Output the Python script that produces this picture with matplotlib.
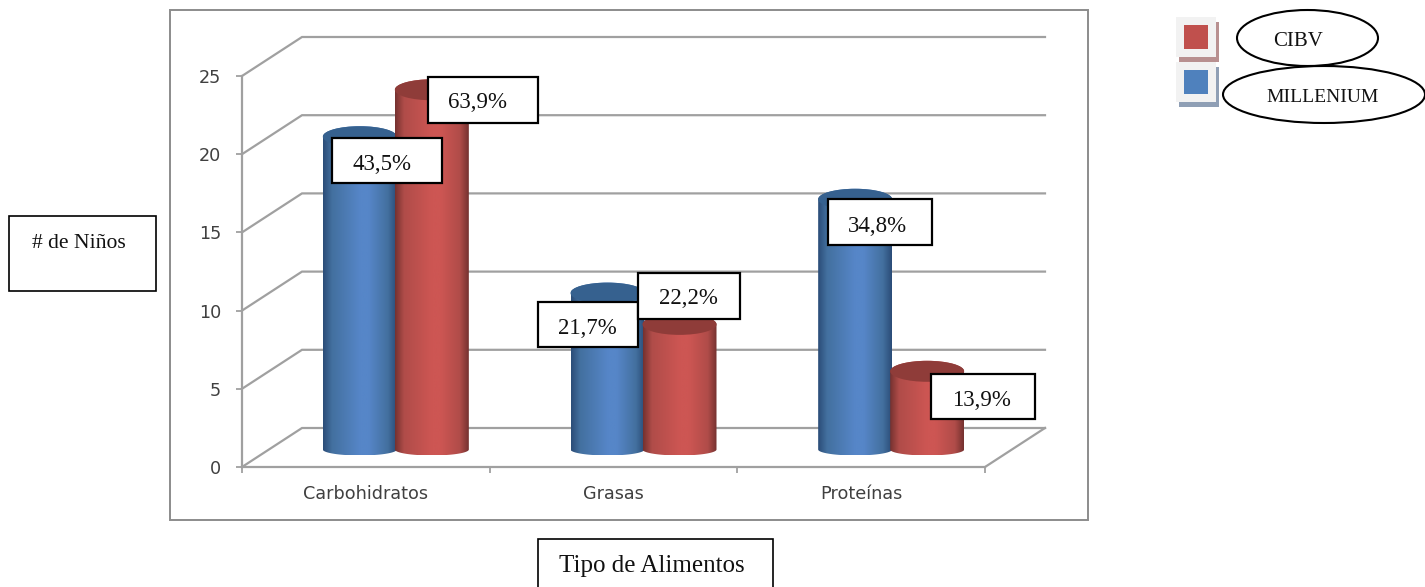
import numpy as np
import matplotlib
matplotlib.use("Agg")
import matplotlib.pyplot as plt
from matplotlib.colors import LinearSegmentedColormap
from matplotlib.patches import Rectangle, Ellipse, Polygon

categories = ["Carbohidratos", "Grasas", "Proteínas"]
millenium = [20, 10, 16]
cibv = [23, 8, 5]
millenium_pct = ["43,5%", "21,7%", "34,8%"]
cibv_pct = ["63,9%", "22,2%", "13,9%"]
y_ticks = [0, 5, 10, 15, 20, 25]
x_title = "Tipo de Alimentos"
y_title = "# de Niños"
series_names = ["CIBV", "MILLENIUM"]

W, H = 1425, 587
SERIF = "Liberation Serif"
GRID = "#a0a0a0"
fig = plt.figure(figsize=(W / 100, H / 100), dpi=100, facecolor="white")

# plot front plane in pixels: x 242..985, y 76..467
ax = fig.add_axes([242 / W, 1 - 467 / H, (985 - 242) / W, (467 - 76) / H], facecolor="none")
ax.set_xlim(0, 3)
ax.set_ylim(0, 25)
px = 3 / (985 - 242)      # x units per pixel
py = 25 / (467 - 76)      # y units per pixel

# 3-D walls
dx, dy = 60 * px, 39 * py
for v in y_ticks:
    ax.plot([0, dx, 3 + dx], [v, v + dy, v + dy], color=GRID, lw=1.6, clip_on=False, zorder=1,
            solid_joinstyle="miter")
ax.plot([3, 3 + dx], [0, dy], color=GRID, lw=1.6, clip_on=False, zorder=1)

for s in ["top", "right"]:
    ax.spines[s].set_visible(False)
for s in ["left", "bottom"]:
    ax.spines[s].set_color(GRID)
    ax.spines[s].set_linewidth(1.6)
    ax.spines[s].set_zorder(2)
ax.set_yticks(y_ticks)
ax.set_xticks([0, 1, 2, 3])
ax.set_xticklabels([])
ax.set_xticks([0.5, 1.5, 2.5], categories, minor=True)
ax.tick_params(axis="y", length=4, width=1.3, color=GRID, labelsize=12.7, labelcolor="#404040", pad=11)
ax.tick_params(axis="x", which="major", length=4, width=1.3, color=GRID)
ax.tick_params(axis="x", which="minor", length=0, labelsize=12.7, labelcolor="#404040", pad=13)
for t in ax.get_xticklabels(minor=True):
    t.set_horizontalalignment("center")
    t.set_x(t.get_position()[0] - 3 * px)


def gradient(dark, mid, bright):
    return LinearSegmentedColormap.from_list(
        "g", [(0, dark), (0.12, mid), (0.5, bright), (0.62, bright), (0.88, mid), (1, dark)])


cm_blue = gradient("#2b4d78", "#43709f", "#5686c8")
cm_red = gradient("#763230", "#b04c49", "#cd5653")
TOP_BLUE, TOP_RED = "#36618f", "#8f3c39"

bar_w = 74 * px
base = 17.5 * py
depth = 29 * px
ry_top, ry_bot = 10.5 * py, 6 * py
grad = np.linspace(0, 1, 128).reshape(1, -1)


def cylinder(xc, value, cmap, top_color, z):
    x0, x1 = xc - bar_w / 2, xc + bar_w / 2
    y0, y1 = base, value + base
    t = np.linspace(0, np.pi, 60)
    xs = xc - np.cos(t) * bar_w / 2
    outline = np.column_stack([
        np.r_[xs, xs[::-1]],
        np.r_[y0 - np.sin(t) * ry_bot, (y1 + np.sin(t) * ry_top)[::-1]],
    ])
    im = ax.imshow(grad, extent=[x0, x1, y0 - ry_bot, y1 + ry_top], cmap=cmap, aspect="auto",
                   zorder=z, interpolation="bilinear", vmin=0, vmax=1)
    clip = Polygon(outline, closed=True, transform=ax.transData)
    im.set_clip_path(clip)
    ax.add_patch(Ellipse((xc, y1), bar_w, 2 * ry_top, facecolor=top_color, edgecolor="none",
                         zorder=z + 0.1, clip_on=False))


for i in range(len(categories)):
    center = i + 0.5 + depth
    cylinder(center - 35 * px, millenium[i], cm_blue, TOP_BLUE, 3)
    cylinder(center + 37 * px, cibv[i], cm_red, TOP_RED, 4)
ax.set_xlim(0, 3)
ax.set_ylim(0, 25)

# overlay in pixel coordinates for the pasted-on boxes
ov = fig.add_axes([0, 0, 1, 1], facecolor="none", zorder=5)
ov.set_xlim(0, W)
ov.set_ylim(H, 0)
ov.axis("off")

ov.add_patch(Rectangle((170, 10), 918, 510, fill=False, edgecolor="#8c8c8c", lw=1.4))


def box(x0, y0, x1, y1, text, tx=None, ty=None, size=16.5, lw=1.6):
    ov.add_patch(Rectangle((x0, y0), x1 - x0, y1 - y0, facecolor="white", edgecolor="black", lw=lw,
                           clip_on=False))
    ov.text((x0 + x1) / 2 if tx is None else tx, (y0 + y1) / 2 if ty is None else ty, text,
            ha="center", va="center", family=SERIF, fontsize=size, color="#111111")


box(332, 138, 442, 183, millenium_pct[0], tx=382, ty=165)
box(428, 77, 538, 123, cibv_pct[0], tx=478, ty=103)
box(538, 302, 638, 347, millenium_pct[1], tx=587, ty=328)
box(638, 273, 740, 319, cibv_pct[1], tx=688, ty=299)
box(828, 199, 932, 245, millenium_pct[2], tx=877, ty=226)
box(931, 374, 1035, 419, cibv_pct[2], tx=981, ty=400)
box(9, 216, 156, 291, y_title, tx=79, ty=243, size=15.6, lw=1.2)
box(538, 539, 773, 600, x_title, tx=652, ty=566, size=18, lw=1.2)


def legend_key(y0, shadow, inner):
    ov.add_patch(Rectangle((1179, y0 + 5), 40, 40, facecolor=shadow, edgecolor="none"))
    ov.add_patch(Rectangle((1176, y0), 40, 40, facecolor="#f2f2f2", edgecolor="none"))
    ov.add_patch(Rectangle((1184, y0 + 8), 24, 24, facecolor=inner, edgecolor="none"))


legend_key(62, "#8f9fb5", "#4f81bd")
legend_key(17, "#b89090", "#c0504d")
ov.add_patch(Ellipse((1307.5, 38), 141, 56, facecolor="white", edgecolor="black", lw=1.5))
ov.add_patch(Ellipse((1324, 94.5), 202, 57, facecolor="white", edgecolor="black", lw=1.5))
ov.text(1298, 42, series_names[0], ha="center", va="center", family=SERIF, fontsize=15, color="#111111")
ov.text(1323, 97, series_names[1], ha="center", va="center", family=SERIF, fontsize=14, color="#111111")

fig.savefig("out.png", dpi=100, facecolor="white")
